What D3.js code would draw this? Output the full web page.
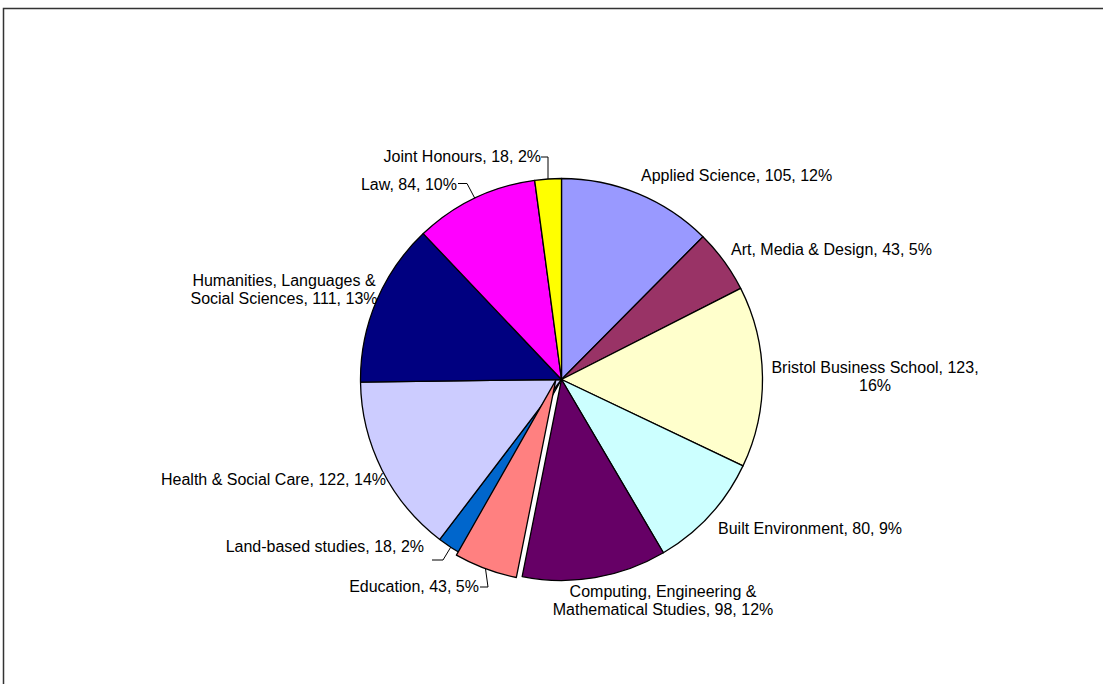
<!DOCTYPE html>
<html>
<head>
<meta charset="utf-8">
<script src="https://cdn.jsdelivr.net/npm/d3@7/dist/d3.min.js"></script>
<style>
  html, body { margin: 0; padding: 0; background: #fff; }
  svg { display: block; }
  text { font-family: "Liberation Sans", Arial, sans-serif; font-size: 16px; fill: #000; }
</style>
</head>
<body>
<svg id="chart" width="1103" height="684"></svg>
<script>
// ---- data ----
const categories = [
  "Applied Science", "Art, Media & Design", "Bristol Business School",
  "Built Environment", "Computing, Engineering & Mathematical Studies",
  "Education", "Land-based studies", "Health & Social Care",
  "Humanities, Languages & Social Sciences", "Law", "Joint Honours"
];
const values = [105, 43, 123, 80, 98, 43, 18, 122, 111, 84, 18];
const percentLabels = ["12%", "5%", "16%", "9%", "12%", "5%", "2%", "14%", "13%", "10%", "2%"];
const colors = ["#9999FF", "#993366", "#FFFFCC", "#CCFFFF", "#660066",
                "#FF8080", "#0066CC", "#CCCCFF", "#000080", "#FF00FF", "#FFFF00"];
// label text lines (wrapped as in the original)
const labelLines = [
  ["Applied Science, 105, 12%"],
  ["Art, Media & Design, 43, 5%"],
  ["Bristol Business School, 123,", "16%"],
  ["Built Environment, 80, 9%"],
  ["Computing, Engineering &", "Mathematical Studies, 98, 12%"],
  ["Education, 43, 5%"],
  ["Land-based studies, 18, 2%"],
  ["Health & Social Care, 122, 14%"],
  ["Humanities, Languages &", "Social Sciences, 111, 13%"],
  ["Law, 84, 10%"],
  ["Joint Honours, 18, 2%"]
];
const explodedIndex = 5;

// ---- layout (positions / styles) ----
const cx = 561.5, cy = 379.5, R = 201;
// label anchor: [x, first baseline y, text-anchor]
const labelLayout = [
  [641, 181, "start"],
  [731, 255, "start"],
  [875, 373, "middle"],
  [718, 534, "start"],
  [663, 597, "middle"],
  [479, 592, "end"],
  [424, 552, "end"],
  [386, 485, "end"],
  [284, 286, "middle"],
  [457, 190, "end"],
  [541, 162, "end"]
];
// leader lines: index -> [label attach point, elbow point]
const leaders = {
  10: [[541, 157], [548, 157]],
  9:  [[458, 183.5], [467, 183.5]],
  6:  [[432, 560], [443, 560]],
  5:  [[480, 587], [488, 587]]
};

const svg = d3.select("#chart");

// outer frame
svg.append("path")
  .attr("d", "M3.5,684 L3.5,8.5 L1103,8.5")
  .attr("fill", "none").attr("stroke", "#333").attr("stroke-width", 1.5);

const pie = d3.pie().sort(null).value(d => d)(values);
const arc = d3.arc().innerRadius(0).outerRadius(R);

const g = svg.append("g").attr("transform", `translate(${cx},${cy})`);

function explodeOffset(d) {
  // shift perpendicular to the start edge (away from the neighbour) plus a little outward
  const a = d.startAngle;
  const edge = [Math.sin(a), -Math.cos(a)];
  const perp = [-edge[1], edge[0]];
  return [perp[0] * 5.5 + edge[0] * 2, perp[1] * 5.5 + edge[1] * 2];
}

const order = pie.map((d, i) => i).filter(i => i !== explodedIndex).concat([explodedIndex]);
order.forEach(i => {
  const d = pie[i];
  const off = i === explodedIndex ? explodeOffset(d) : [0, 0];
  g.append("path")
    .attr("d", arc(d))
    .attr("transform", `translate(${off[0]},${off[1]})`)
    .attr("fill", colors[i])
    .attr("stroke", "#000")
    .attr("stroke-width", 1.3)
    .attr("stroke-linejoin", "round");
});

// leader lines
Object.keys(leaders).forEach(k => {
  const i = +k;
  const d = pie[i];
  const mid = (d.startAngle + d.endAngle) / 2;
  const off = i === explodedIndex ? explodeOffset(d) : [0, 0];
  let ex = cx + off[0] + Math.sin(mid) * R;
  let ey = cy + off[1] - Math.cos(mid) * R;
  const [p1, p2] = leaders[k];
  if (i === 10) { ex = p2[0]; } // vertical drop for the top slice
  svg.append("polyline")
    .attr("points", [p1, p2, [ex, ey]].map(p => p.join(",")).join(" "))
    .attr("fill", "none").attr("stroke", "#000").attr("stroke-width", 1);
});

// labels
labelLines.forEach((lines, i) => {
  const [x, y, anchor] = labelLayout[i];
  const t = svg.append("text").attr("text-anchor", anchor);
  lines.forEach((ln, j) => {
    t.append("tspan").attr("x", x).attr("y", y + j * 18).text(ln);
  });
});
</script>
</body>
</html>
